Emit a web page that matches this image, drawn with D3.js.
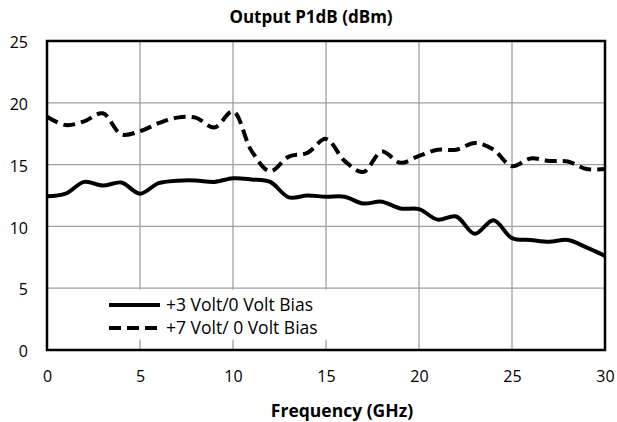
<html>
<head>
<script src="https://cdn.jsdelivr.net/npm/d3@7"></script>
<style>
    body { margin: 0; background: #fff; }
    text { font-family: "Open Sans", sans-serif; fill: #000; }
    .grid line { stroke: #a0a0a0; stroke-width: 1.3; }
    .series { fill: none; stroke: #000; stroke-width: 4; }
</style>
</head>
<body>
<script>
// data
var freq = [0,1,2,3,4,5,6,7,8,9,10,11,12,13,14,15,16,17,18,19,20,21,22,23,24,25,26,27,28,29,30];
var bias3 = [12.43,12.65,13.6,13.3,13.55,12.65,13.5,13.7,13.72,13.6,13.9,13.8,13.6,12.35,12.5,12.4,
             12.4,11.85,12.0,11.45,11.4,10.55,10.8,9.4,10.5,9.05,8.9,8.75,8.9,8.3,7.62];
var bias7 = [18.87,18.2,18.5,19.15,17.45,17.7,18.35,18.8,18.8,18.0,19.3,16.1,14.46,15.65,15.95,17.08,
             15.3,14.4,16.05,15.15,15.7,16.2,16.2,16.75,16.22,14.87,15.5,15.3,15.25,14.65,14.65];
var xTicks = [0,5,10,15,20,25,30];
var yTicks = [0,5,10,15,20,25];
var seriesNames = ["+3 Volt/0 Volt Bias", "+7 Volt/ 0 Volt Bias"];

var width = 617, height = 422;
// plot box (note: "top" would clash with window.top)
var pLeft = 47, pRight = 605, pTop = 41, pBottom = 350;
var dash = "12,6";

var svg = d3.select("body").append("svg")
    .attr("width", width)
    .attr("height", height);

var x = d3.scaleLinear().domain([0, 30]).range([pLeft, pRight]);
var y = d3.scaleLinear().domain([0, 25]).range([pBottom, pTop]);

// grid
var grid = svg.append("g").attr("class", "grid");
grid.selectAll("line.v")
    .data(xTicks.slice(1, -1))
    .enter().append("line")
        .attr("class", "v")
        .attr("x1", d => x(d)).attr("x2", d => x(d))
        .attr("y1", pTop).attr("y2", pBottom);
grid.selectAll("line.h")
    .data(yTicks.slice(1, -1))
    .enter().append("line")
        .attr("class", "h")
        .attr("x1", pLeft).attr("x2", pRight)
        .attr("y1", d => y(d)).attr("y2", d => y(d));

// legend background hides the grid under it
svg.append("rect")
    .attr("x", 100).attr("y", y(5) + 1.5)
    .attr("width", 300).attr("height", 50)
    .attr("fill", "#fff");

// series
var line = d3.line()
    .x((d, i) => x(freq[i]))
    .y(d => y(d))
    .curve(d3.curveCatmullRom.alpha(0.5));

svg.append("path").datum(bias3)
    .attr("class", "series")
    .attr("d", line);
svg.append("path").datum(bias7)
    .attr("class", "series")
    .attr("stroke-dasharray", dash)
    .attr("d", line);

// frame
svg.append("rect")
    .attr("x", pLeft).attr("y", pTop)
    .attr("width", pRight - pLeft).attr("height", pBottom - pTop)
    .attr("fill", "none").attr("stroke", "#000").attr("stroke-width", 2.5);

// axes (labels only)
var xAxis = svg.append("g")
    .attr("transform", "translate(0," + (pBottom + 32) + ")")
    .call(d3.axisBottom(x).tickValues(xTicks).tickSize(0).tickPadding(0));
var yAxis = svg.append("g")
    .attr("transform", "translate(" + (pLeft - 19) + ",0)")
    .call(d3.axisLeft(y).tickValues(yTicks).tickSize(0).tickPadding(0));
xAxis.select(".domain").remove();
yAxis.select(".domain").remove();
xAxis.selectAll("text").attr("dy", 0).style("font-size", "16px").style("font-family", "Open Sans");
yAxis.selectAll("text").attr("dy", "0.42em").style("font-size", "16px").style("font-family", "Open Sans");

// titles
svg.append("text")
    .attr("x", 311).attr("y", 23)
    .attr("text-anchor", "middle")
    .style("font-size", "17px").style("font-weight", "bold")
    .text("Output P1dB (dBm)");
svg.append("text")
    .attr("x", 342).attr("y", 417)
    .attr("text-anchor", "middle")
    .style("font-size", "17.5px").style("font-weight", "bold")
    .text("Frequency (GHz)");

// legend
var leg = svg.append("g");
seriesNames.forEach(function(name, i) {
    var ly = 305 + i * 23;
    leg.append("line")
        .attr("x1", 109).attr("x2", 160)
        .attr("y1", ly).attr("y2", ly)
        .attr("stroke", "#000").attr("stroke-width", 4)
        .attr("stroke-dasharray", i == 1 ? dash : null);
    leg.append("text")
        .attr("x", 166).attr("y", ly + 6)
        .style("font-size", "17.5px")
        .text(name);
});
</script>
</body>
</html>
